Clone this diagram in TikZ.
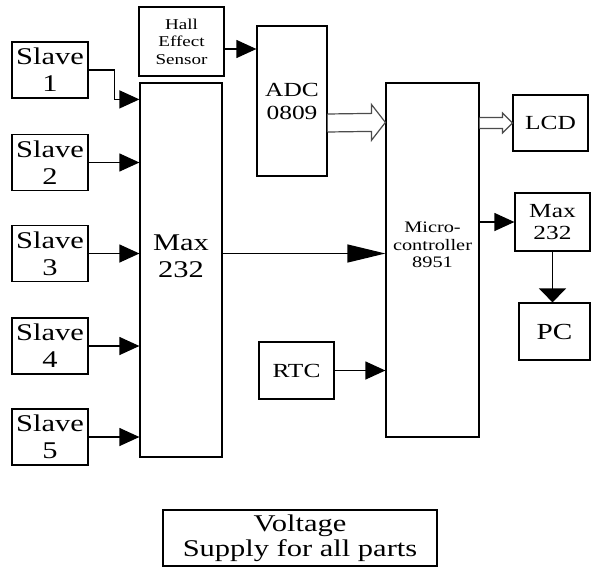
\documentclass[tikz,border=0pt]{standalone}
\usepackage{fontspec}
\setmainfont{Liberation Serif}[FakeStretch=1.27]
\usetikzlibrary{arrows.meta, calc}

\tikzset{
  blk/.style={draw, line width=0.6pt, inner sep=0pt, align=center},
  arr/.style={line width=0.6pt, -{Triangle[length=10pt, width=9pt]}},
  bus/.style={line width=0.6pt, draw=black!70, fill=white}
}

\begin{document}
\begin{tikzpicture}[x=0.5pt, y=-0.5pt, font=\fontsize{12}{13.5}\selectfont]
    \useasboundingbox (0,0) rectangle (592,567);
    % slave units
    \foreach \n/\y in {1/70, 2/162.5, 3/253.5, 4/346, 5/437}
        \node[blk, minimum width=38pt, minimum height=28pt] (s\n) at (50,\y) {Slave\\\n};
    \node[blk, minimum width=41pt, minimum height=187pt, label={[yshift=7pt, align=center]center:Max\\232}] (max) at (181,270) {};
    \node[blk, minimum width=42.5pt, minimum height=34.5pt, font=\fontsize{7.5}{8.75}\selectfont] (hall) at (181.5,41.5) {Hall\\Effect\\Sensor};
    \node[blk, minimum width=35pt, minimum height=75pt, font=\fontsize{10}{11.5}\selectfont] (adc) at (292,101) {ADC\\0809};
    \node[blk, minimum width=46.5pt, minimum height=177pt, label={[yshift=7.5pt, align=center, font=\fontsize{8}{8.75}\selectfont]center:Micro-\\controller\\8951}] (mcu) at (432.5,260) {};
    \node[blk, minimum width=37.5pt, minimum height=28pt, font=\fontsize{10}{11}\selectfont] (lcd) at (550.5,123) {LCD};
    \node[blk, minimum width=37.5pt, minimum height=29pt, font=\fontsize{10}{11}\selectfont] (max2) at (552.5,222) {Max\\232};
    \node[blk, minimum width=35.5pt, minimum height=28.5pt, font=\fontsize{11.5}{12}\selectfont] (pc) at (554.5,331.5) {PC};
    \node[blk, minimum width=37.5pt, minimum height=28.5pt, font=\fontsize{10}{11}\selectfont] (rtc) at (296.5,370.5) {RTC};
    \node[blk, minimum width=137pt, minimum height=28pt, font=\fontsize{12}{12.5}\selectfont] (volt) at (300,538) {Voltage\\Supply for all parts};

    % connections
    \draw[arr] (s1.east) -- ++(26,0) |- ($(max.north west)+(0,17)$);
    \foreach \n in {2,...,5}
        \draw[arr] (s\n.east) -- (s\n.east -| max.west);
    \coordinate (hallout) at ([yshift=-3.75pt]hall.east);
    \draw[arr] (hallout) -- (hallout -| adc.west);
    \draw[arr, -{Triangle[length=19pt, width=9pt]}] (s3 -| max.east) -- (s3 -| mcu.west);
    \draw[arr] (rtc.east) -- (rtc -| mcu.west);
    \draw[arr] (max2 -| mcu.east) -- (max2.west);
    \draw[arr, -{Triangle[length=7pt, width=13.5pt]}] (max2.south) -- (max2.south |- pc.north);

    % data buses
    \draw[bus] ($(adc.east)+(0,31)$) -- ($(mcu.north west)+(-14,49)$) -- ($(mcu.north west)+(-14,58)$) -- ($(mcu.north west)+(0,40)$) -- ($(mcu.north west)+(-14,22)$) -- ($(mcu.north west)+(-14,31)$) -- ($(adc.east)+(0,13)$);
    \draw[bus] ($(mcu.east |- lcd.west)+(0,5.5)$) -- ($(lcd.west)+(-10,5.5)$) -- ($(lcd.west)+(-10,10)$) -- (lcd.west) -- ($(lcd.west)+(-10,-10)$) -- ($(lcd.west)+(-10,-5.5)$) -- ($(mcu.east |- lcd.west)+(0,-5.5)$);
\end{tikzpicture}
\end{document}
